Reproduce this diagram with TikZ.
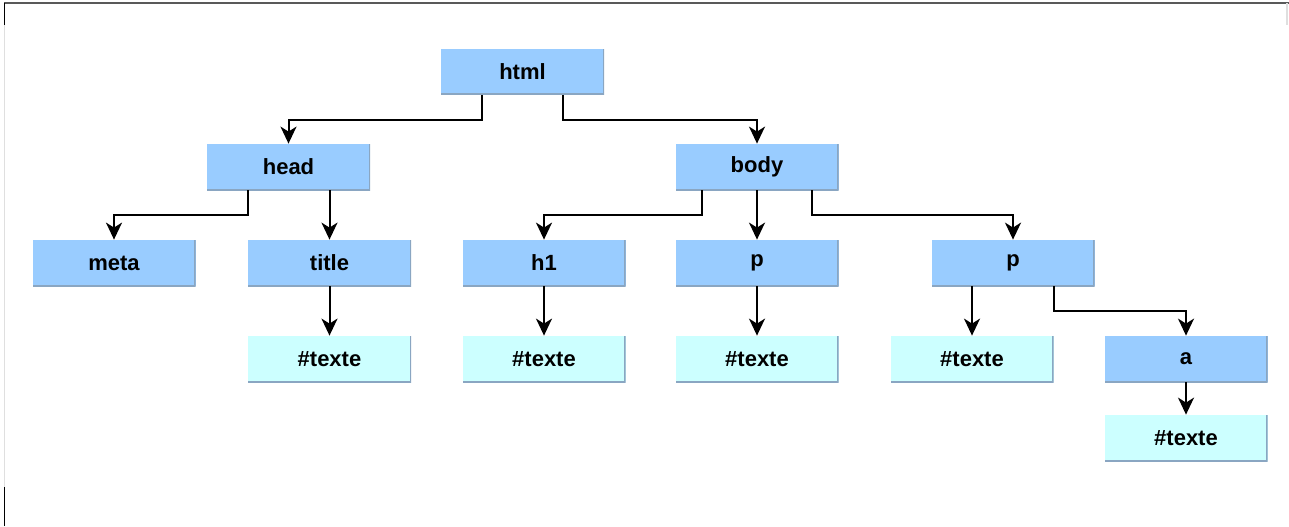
\documentclass[tikz,border=0pt]{standalone}
\usepackage{fontspec}
\setmainfont{Liberation Sans}
\usepackage{tikz}
\usetikzlibrary{calc,arrows.meta}
\definecolor{tagblue}{HTML}{99CCFF}
\definecolor{textcyan}{HTML}{CCFFFF}
\definecolor{edgegray}{HTML}{8AA6C2}

\begin{document}
\begin{tikzpicture}[x=0.5pt,y=-0.5pt,
font=\fontsize{11}{13}\selectfont\bfseries
]
    \tikzstyle{box}=[minimum width=81.5pt,minimum height=23pt,inner sep=0,
        path picture={\draw[edgegray,line width=1.2pt]
            (path picture bounding box.north east) -- (path picture bounding box.south east)
            -- (path picture bounding box.south west);}]
    \tikzstyle{tag node}=[box,fill=tagblue]
    \tikzstyle{text node}=[box,fill=textcyan]
    \tikzstyle{link}=[line width=1pt,-{Stealth[length=8.5pt,width=8pt,inset=2.5pt]}]

    \useasboundingbox (0,0) rectangle (1289,526);
    % page edges
    \draw[gray!70!black,line width=0.8pt] (4,3) -- (1289,3);
    \draw[black,line width=0.8pt] (4.5,3) -- (4.5,25);
    \draw[gray!25,line width=0.8pt] (4.5,25) -- (4.5,487);
    \draw[black,line width=0.8pt] (4.5,487) -- (4.5,526);
    \draw[gray!25,line width=0.8pt] (1287,3) -- (1287,25);

    % level 0 and 1
    \node(0)[tag node] at (522.5,71.5) {html};
    \node(1)[tag node] at (288.5,167) {head};
    \node(2)[tag node] at (757,167) {body};
    % level 2
    \node(11)[tag node] at (114,263) {meta};
    \node(12)[tag node] at (329.5,263) {title};
    \node(21)[tag node] at (544,263) {h1};
    \node(22)[tag node] at (757,263) {p};
    \node(23)[tag node] at (1013,263) {p};
    % level 3
    \node(121)[text node] at (329.5,359) {\#texte};
    \node(211)[text node] at (544,359) {\#texte};
    \node(221)[text node] at (757,359) {\#texte};
    \node(231)[text node] at (972,359) {\#texte};
    \node(232)[tag node] at (1186,359) {a};
    % level 4
    \node(2321)[text node] at (1186,438) {\#texte};

    % connectors
    \draw[link] ($(0.south)+(-40.5,0)$) -- ++(0,25) -| (1.north);
    \draw[link] ($(0.south)+(40.5,0)$) -- ++(0,25) -| (2.north);
    \draw[link] ($(1.south)+(-40.5,0)$) -- ++(0,25) -| (11.north);
    \draw[link] (12.north |- 1.south) -- (12.north);
    \draw[link] ($(2.south)+(-55,0)$) -- ++(0,25) -| (21.north);
    \draw[link] (2.south) -- (22.north);
    \draw[link] ($(2.south)+(55,0)$) -- ++(0,25) -| (23.north);
    \draw[link] (12.south) -- (121.north);
    \draw[link] (21.south) -- (211.north);
    \draw[link] (22.south) -- (221.north);
    \draw[link] (231.north |- 23.south) -- (231.north);
    \draw[link] ($(23.south)+(41,0)$) -- ++(0,25) -| (232.north);
    \draw[link] (232.south) -- (2321.north);
\end{tikzpicture}
\end{document}
